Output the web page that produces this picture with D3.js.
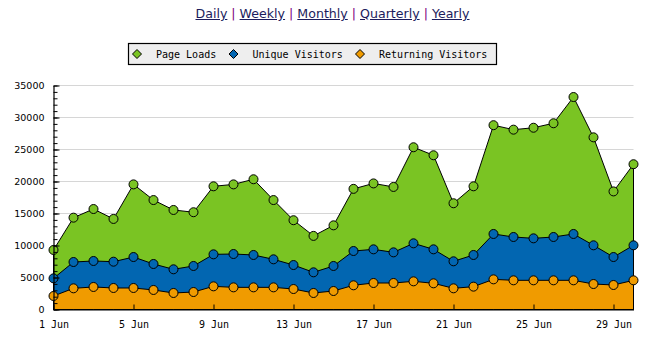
<!DOCTYPE html>
<html>
<head>
<meta charset="utf-8">
<script src="https://cdn.jsdelivr.net/npm/d3@7"></script>
<style>
  html, body { margin: 0; padding: 0; background: #fff; }
  #wrap { position: relative; width: 655px; height: 337px; }
  #nav { position: absolute; left: 5px; top: 6px; width: 655px; text-align: center;
         font-family: Verdana, "DejaVu Sans", sans-serif; font-size: 12.6px; color: #800080; }
  #nav a { color: #1c1c5c; text-decoration: underline; }
  svg { position: absolute; left: 0; top: 0; }
</style>
</head>
<body>
<div id="wrap">
  <div id="nav"></div>
  <svg id="chart" width="655" height="337"></svg>
</div>
<script>
// Period links shown above the chart
const periods = ["Daily", "Weekly", "Monthly", "Quarterly", "Yearly"];

// Days of June
const days = ["1 Jun","2 Jun","3 Jun","4 Jun","5 Jun","6 Jun","7 Jun","8 Jun","9 Jun","10 Jun",
              "11 Jun","12 Jun","13 Jun","14 Jun","15 Jun","16 Jun","17 Jun","18 Jun","19 Jun","20 Jun",
              "21 Jun","22 Jun","23 Jun","24 Jun","25 Jun","26 Jun","27 Jun","28 Jun","29 Jun","30 Jun"];
const xTickLabels = ["1 Jun","5 Jun","9 Jun","13 Jun","17 Jun","21 Jun","25 Jun","29 Jun"];
const yTicks = [0, 5000, 10000, 15000, 20000, 25000, 30000, 35000];

const pageLoads = [9300,14350,15700,14150,19550,17100,15550,15200,19250,19550,
                   20350,17100,13950,11500,13150,18850,19700,19150,25350,24100,
                   16600,19250,28800,28100,28400,29100,33200,26900,18450,22700];
const uniqueVisitors = [4870,7420,7580,7470,8200,7110,6280,6800,8620,8670,
                        8520,7840,6950,5810,6800,9140,9400,8930,10340,9400,
                        7530,8520,11800,11330,11120,11330,11800,10030,8200,10030];
const returningVisitors = [2110,3310,3520,3360,3360,3050,2580,2730,3620,3460,
                           3460,3460,3200,2580,2890,3780,4140,4140,4400,4090,
                           3310,3570,4710,4560,4560,4560,4560,3980,3830,4560];

const seriesNames = ["Page Loads", "Unique Visitors", "Returning Visitors"];
const seriesColors = ["#7ac423", "#0266b1", "#f09b00"];
const seriesValues = [pageLoads, uniqueVisitors, returningVisitors];

// --- navigation links ---
const nav = d3.select("#nav");
periods.forEach((p, i) => {
  if (i > 0) nav.append("span").text(" | ");
  nav.append("a").attr("href", "#").text(p);
});

// --- chart ---
const svg = d3.select("#chart");
const x = d3.scalePoint().domain(days).range([53.5, 633.5]);
const y = d3.scaleLinear().domain([0, 35000]).range([309.5, 85.5]);

// horizontal grid
svg.append("g").selectAll("line").data(yTicks.filter(v => v > 0)).join("line")
  .attr("x1", 54).attr("x2", 633.5)
  .attr("y1", d => y(d)).attr("y2", d => y(d))
  .attr("stroke", "#d6d6d6").attr("stroke-width", 1.2);

// areas, drawn from the baseline and overlapping
const area = d3.area()
  .x((d, i) => x(days[i]))
  .y0(y(0))
  .y1(d => y(d));

svg.append("g").selectAll("path").data(seriesValues).join("path")
  .attr("d", d => area(d) + "Z")
  .attr("fill", (d, i) => seriesColors[i])
  .attr("stroke", "#000").attr("stroke-width", 1)
  .attr("stroke-linejoin", "miter");

// markers
seriesValues.forEach((vals, s) => {
  svg.append("g").selectAll("circle").data(vals).join("circle")
    .attr("cx", (d, i) => x(days[i]))
    .attr("cy", d => y(d))
    .attr("r", 4.5)
    .attr("fill", seriesColors[s])
    .attr("stroke", "#000").attr("stroke-width", 1);
});

// y axis with major and minor ticks pointing inward
const yMinor = d3.range(0, 35001, 1000);
svg.append("g").attr("transform", "translate(53.5,0)")
  .call(d3.axisLeft(y).tickValues(yMinor).tickSize(-4).tickFormat(""))
  .call(g => g.select(".domain").remove())
  .selectAll("line").attr("stroke", "#000");
const yAxis = svg.append("g").attr("transform", "translate(53.5,0)")
  .call(d3.axisLeft(y).tickValues(yTicks).tickSizeInner(-6).tickSizeOuter(0).tickPadding(9)
        .tickFormat(d3.format("d")));
yAxis.select(".domain").attr("stroke", "#000").attr("stroke-width", 1.2);
yAxis.selectAll("text").attr("font-family", "Verdana, 'DejaVu Sans', sans-serif")
  .attr("font-size", "9.5px").attr("fill", "#000");

// x axis
const xAxis = svg.append("g").attr("transform", "translate(0,309.5)")
  .call(d3.axisBottom(x).tickValues(xTickLabels).tickSizeInner(-5).tickSizeOuter(0).tickPadding(11));
xAxis.select(".domain").attr("stroke", "#000").attr("stroke-width", 1.2);
xAxis.selectAll("text").attr("font-family", "'DejaVu Sans Mono', monospace")
  .attr("font-size", "10px").attr("fill", "#000");

// legend
const legend = svg.append("g");
legend.append("rect").attr("x", 128.5).attr("y", 43.5).attr("width", 368).attr("height", 21)
  .attr("fill", "#eeeeee").attr("stroke", "#000").attr("stroke-width", 1.2);
const legendX = [137, 233.5, 360];
const item = legend.selectAll("g.item").data(seriesNames).join("g")
  .attr("class", "item")
  .attr("transform", (d, i) => `translate(${legendX[i]},54)`);
item.append("path")
  .attr("d", "M0,-4.5 L4.5,0 L0,4.5 L-4.5,0 Z")
  .attr("fill", (d, i) => seriesColors[i])
  .attr("stroke", "#000").attr("stroke-width", 1).attr("stroke-linejoin", "round");
item.append("text").attr("x", 19).attr("y", 0).attr("dy", "0.35em")
  .attr("font-family", "'DejaVu Sans Mono', monospace").attr("font-size", "10px")
  .attr("fill", "#000").text(d => d);
</script>
</body>
</html>
